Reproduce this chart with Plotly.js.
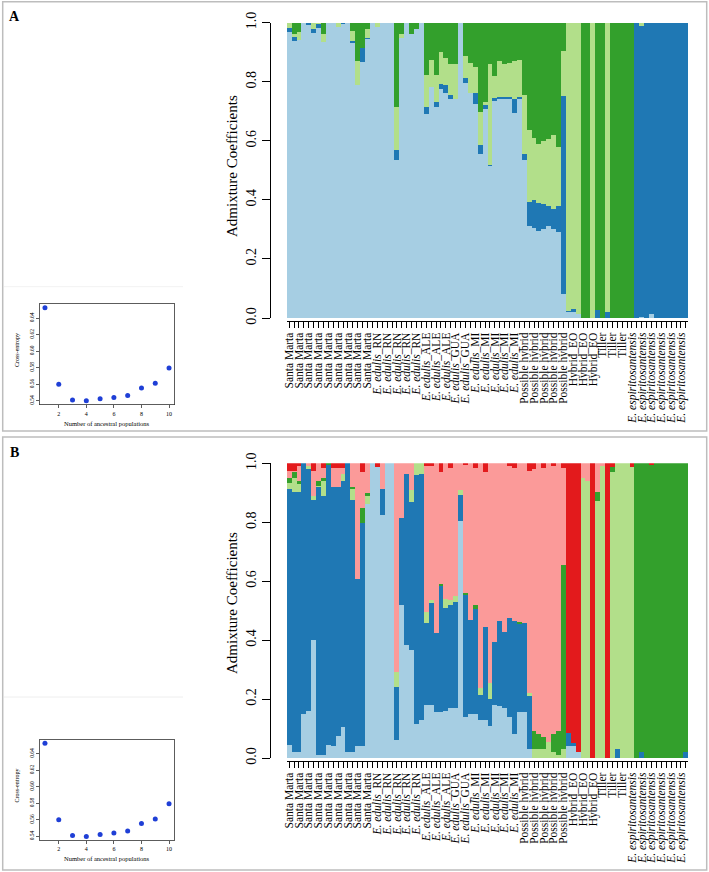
<!DOCTYPE html>
<html><head><meta charset="utf-8">
<script src="https://cdn.plot.ly/plotly-3.0.1.min.js"></script>
<style>html,body{margin:0;padding:0;background:#fff;}#chart{width:709px;height:872px;}</style>
</head><body><div id="chart"></div>
<script>
// ---------- DATA ----------
const tickLabels = [
 'Santa Marta','Santa Marta','Santa Marta','Santa Marta','Santa Marta','Santa Marta','Santa Marta','Santa Marta','Santa Marta',
 '<i>E. edulis</i>_RN','<i>E. edulis</i>_RN','<i>E. edulis</i>_RN','<i>E. edulis</i>_RN','<i>E. edulis</i>_RN',
 '<i>E. edulis</i>_ALE','<i>E. edulis</i>_ALE','<i>E. edulis</i>_ALE',
 '<i>E. edulis</i>_GUA','<i>E. edulis</i>_GUA',
 '<i>E. edulis</i>_MI','<i>E. edulis</i>_MI','<i>E. edulis</i>_MI','<i>E. edulis</i>_MI','<i>E. edulis</i>_MI',
 'Possible hybrid','Possible hybrid','Possible hybrid','Possible hybrid','Possible hybrid',
 'Hybrid_EO','Hybrid_EO','Hybrid_EO',
 'Tiller','Tiller','Tiller',
 '<i>E. espiritosantensis</i>','<i>E. espiritosantensis</i>','<i>E. espiritosantensis</i>','<i>E. espiritosantensis</i>','<i>E. espiritosantensis</i>','<i>E. espiritosantensis</i>'
];

// Panel A (K=4)
const aLightBlue = [.967,.938,.941,1,.993,.964,.981,.936,1,1, .986,.996,1,.931,.790,.867,.946,1,.986,1, 1,1,.534,.949,1,.962,.977,1,.691,.783, .714,.776,.761,.740,.740,1,.797,.761,.725,.556, .709,.515,.735,.740,.740,.740,.694,.740,.536,.312, .306,.296,.300,.310,.300,.290,.080,.020,.020,.015, 0,0,0,0,0,0,0,0,0,0, 0,0,.005,0,.014,0,0,0,0,0, 0,0];
const aDarkBlue  = [.016,.014,0,0,.007,.013,.015,0,0,0, 0,.004,0,.007,0,.049,.003,0,0,0, 0,0,.036,0,0,0,0,0,.023,0, .016,.018,.029,.016,0,0,.015,0,.036,.029, .013,.003,.010,.010,.010,.008,.048,.008,.020,.082, .094,.094,.085,.070,.070,.090,.672,.005,.010,0, 0,0,0,.028,0,.020,0,0,0,0, 0,1,.985,1,.986,1,1,1,1,1, 1,1];
const aLightGreen= [.017,.010,.026,0,0,.023,.004,.026,0,0, .014,0,0,.034,.081,0,.031,0,.014,0, 0,0,.144,.013,0,0,0,0,.109,.091, .093,.106,.089,.103,.119,0,.075,.103,.089,.114, .008,.341,.073,.120,.110,.114,.128,.127,.200,.243, .210,.200,.215,.225,.250,.200,.153,.975,.970,.985, 0,0,1,0,0,.980,0,0,0,0, 0,0,.010,0,0,0,0,0,0,0, 0,0];
const aDarkGreen = [0,.038,.033,0,0,0,0,.038,0,0, 0,0,0,.028,.129,.084,.020,0,0,0, 0,0,.286,.038,0,.038,.023,0,.177,.126, .177,.100,.121,.141,.141,0,.113,.136,.150,.301, .270,.141,.182,.130,.140,.138,.130,.125,.244,.363, .390,.410,.400,.395,.380,.420,.095,0,0,0, 1,1,0,.972,1,0,1,1,1,1, 1,0,0,0,0,0,0,0,0,0, 0,0];

// Panel B (K=6)
const bLightBlue = [.045,.020,.020,.150,.160,.400,.010,.010,.044,.040, .075,.105,.020,.020,.040,.040,.863,1,.988,.823, 1,1,.060,.520,.383,.368,.115,.130,.180,.180, .156,.155,.160,.170,.170,.803,.140,.150,.150,.130, .130,.110,.181,.176,.170,.140,.080,.156,.156,.030, 0,0,0,0,0,0,0,.040,.040,.020, 0,0,0,0,0,0,0,0,0,0, 0,0,0,0,0,0,0,0,0,0, 0,0];
const bDarkBlue  = [.869,.884,.881,.850,.820,.474,.909,.879,.951,.881, .846,.834,.980,.857,.566,.758,0,0,0,.091, 0,0,.182,.296,.582,.502,.845,.832,.279,.345, .268,.430,.350,.350,.360,.088,.412,.319,.355,.083, .314,.091,.212,.290,.256,.334,.384,.299,.303,.181, 0,0,0,0,0,0,0,.045,.010,0, 0,0,0,0,0,0,0,.030,0,0, 0,0,.020,0,0,0,0,0,0,0, 0,.020];
const bLightGreen= [.018,.047,.029,0,.010,.015,.005,.050,0,0, 0,.026,0,.037,0,0,.026,0,0,0, 0,0,.050,0,0,.038,.040,.038,.035,.010, 0,0,.030,.015,.020,.019,0,0,0,.025, 0,.053,0,0,0,0,0,0,0,.010, .030,.030,.030,.055,.020,.010,.030,0,0,0, .950,.940,0,.873,.990,0,.972,.970,1,1, .988,0,0,0,0,0,0,0,0,0, 0,0];
const bDarkGreen = [.018,.019,.009,0,0,0,.015,.011,.005,0, 0,0,0,.007,0,.050,.011,0,0,0, 0,0,0,0,0,0,0,0,0,0, 0,.005,0,0,0,0,.008,0,.015,0, 0,0,0,0,0,0,0,.005,0,0, .060,.050,.040,0,.060,.080,.626,0,0,0, 0,0,0,.031,0,0,.016,0,0,0, 0,1,.980,1,.995,1,1,1,1,1, 1,.980];
const bPink      = [.025,.005,.051,0,.010,.086,.061,.035,0,.064, .064,.020,0,.079,.394,.122,.100,0,0,.086, 0,0,.708,.184,.035,.092,0,0,.496,.455, .576,.380,.460,.450,.450,.090,.435,.531,.465,.762, .526,.746,.607,.534,.574,.516,.521,.540,.541,.754, .890,.920,.915,.945,.910,.910,.329,0,0,0, .050,.060,0,.096,.010,0,0,0,0,0, 0,0,0,0,0,0,0,0,0,0, 0,0];
const bRed       = [.025,.025,.010,0,0,.025,0,.015,0,.015, .015,.015,0,0,0,.030,0,0,.012,0, 0,0,0,0,0,0,0,0,.010,.010, 0,.030,0,.015,0,0,.005,0,.015,0, .030,0,0,0,0,.010,.015,0,0,.025, .020,0,.015,0,.010,0,.015,.915,.950,.980, 0,0,1,0,0,1,.012,0,0,0, .012,0,0,0,.005,0,0,0,0,0, 0,0];

// Cross-entropy insets
const kValues = [1,2,3,4,5,6,7,8,9,10];
const crossEntropyA = [0.6527,0.5600,0.5410,0.5400,0.5424,0.5440,0.5464,0.5556,0.5612,0.5796];
const crossEntropyB = [0.6527,0.5600,0.5410,0.5400,0.5424,0.5440,0.5464,0.5556,0.5612,0.5796];

const yTickVals = [0,0.2,0.4,0.6,0.8,1.0];
const yTickText = ['0.0','0.2','0.4','0.6','0.8','1.0'];
const ceTickVals = [0.54,0.56,0.58,0.60,0.62,0.64];
const ceTickText = ['0.54','0.56','0.58','0.60','0.62','0.64'];
const kTickVals = [2,4,6,8,10];

// ---------- BUILD ----------
const W = 709, H = 872;
const px = v => v / W;
const py = v => 1 - v / H;
const serif = 'Liberation Serif, Times New Roman, serif';
const nBars = aLightBlue.length;
const idx = aLightBlue.map((_, i) => i + 1);
const tickText = idx.map(i => (i % 2 === 1 ? (tickLabels[(i - 1) / 2] || '') : ''));

const C = {lb:'#A6CEE3', db:'#1F78B4', lg:'#B2DF8A', dg:'#33A02C', pk:'#FB9A99', rd:'#E31A1C'};
function bar(y, color, xa, ya) {
  return {type:'bar', x: idx, y: y, width: 1, xaxis: xa, yaxis: ya,
          marker:{color: color, line:{width:0}}, hoverinfo:'skip'};
}
const traces = [
  bar(aLightBlue, C.lb, 'x', 'y'), bar(aDarkBlue, C.db, 'x', 'y'),
  bar(aLightGreen, C.lg, 'x', 'y'), bar(aDarkGreen, C.dg, 'x', 'y'),
  bar(bLightBlue, C.lb, 'x3', 'y3'), bar(bDarkBlue, C.db, 'x3', 'y3'),
  bar(bLightGreen, C.lg, 'x3', 'y3'), bar(bDarkGreen, C.dg, 'x3', 'y3'),
  bar(bPink, C.pk, 'x3', 'y3'), bar(bRed, C.rd, 'x3', 'y3'),
  {type:'scatter', mode:'markers', x: kValues, y: crossEntropyA, xaxis:'x2', yaxis:'y2',
   marker:{color:'#1f3fd6', size:5}, hoverinfo:'skip'},
  {type:'scatter', mode:'markers', x: kValues, y: crossEntropyB, xaxis:'x4', yaxis:'y4',
   marker:{color:'#1f3fd6', size:5}, hoverinfo:'skip'}
];

function mainX(axisY) {
  return {domain:[px(286.7), px(688.3)], range:[0.5, nBars + 0.5], anchor:'free', position: py(axisY),
    showline:true, linecolor:'#000', linewidth:1, ticks:'outside', ticklen:6, tickwidth:1, tickcolor:'#000',
    tickmode:'array', tickvals: idx, ticktext: tickText, tickangle:-90,
    tickfont:{family: serif, size: 11.5, color:'#000'}, showgrid:false, zeroline:false, fixedrange:true};
}
function mainY(top, bottom) {
  return {domain:[py(bottom), py(top)], range:[0, 1], anchor:'free', position: px(270),
    showline:true, linecolor:'#000', linewidth:1, ticks:'outside', ticklen:8, tickwidth:1, tickcolor:'#000',
    tickmode:'array', tickvals: yTickVals, ticktext: yTickText, tickangle:-90,
    tickfont:{family: serif, size: 14, color:'#000'}, showgrid:false, zeroline:false, fixedrange:true};
}
function insetX(ya) {
  return {domain:[px(40), px(174)], range:[0.64, 10.36], anchor: ya, showline:true, mirror:true,
    linecolor:'#333', linewidth:0.8, ticks:'outside', ticklen:3, tickwidth:0.8, tickcolor:'#333',
    tickmode:'array', tickvals: kTickVals, tickfont:{family: serif, size: 6, color:'#000'},
    showgrid:false, zeroline:false, fixedrange:true};
}
function insetY(xa, top, bottom) {
  return {domain:[py(bottom), py(top)], range:[0.5355, 0.6572], anchor: xa, showline:true, mirror:true,
    linecolor:'#333', linewidth:0.8, ticks:'outside', ticklen:3, tickwidth:0.8, tickcolor:'#333',
    tickmode:'array', tickvals: ceTickVals, ticktext: ceTickText, tickangle:-90,
    tickfont:{family: serif, size: 5.5, color:'#000'}, showgrid:false, zeroline:false, fixedrange:true};
}

const offB = 435.6;
const layout = {
  width: W, height: H, margin:{l:0, r:0, t:0, b:0},
  paper_bgcolor:'#ffffff', plot_bgcolor:'rgba(0,0,0,0)',
  barmode:'stack', bargap:0, showlegend:false,
  xaxis: mainX(321), yaxis: mainY(22.7, 318),
  xaxis2: insetX('y2'), yaxis2: insetY('x2', 304, 404.5),
  xaxis3: mainX(761), yaxis3: mainY(463.3, 758),
  xaxis4: insetX('y4'), yaxis4: insetY('x4', 304 + offB, 404.5 + offB),
  shapes: [
    {type:'rect', xref:'paper', yref:'paper', x0: px(2.7), x1: px(706.7), y0: py(431), y1: py(1.7),
     line:{color:'#bdbdbd', width:1.5}},
    {type:'rect', xref:'paper', yref:'paper', x0: px(2.7), x1: px(706.7), y0: py(870), y1: py(437),
     line:{color:'#bdbdbd', width:1.5}},
    {type:'line', xref:'paper', yref:'paper', x0: px(4), x1: px(183), y0: py(286.7), y1: py(286.7),
     line:{color:'#f2f2f2', width:1}},
    {type:'line', xref:'paper', yref:'paper', x0: px(4), x1: px(183), y0: py(697), y1: py(697),
     line:{color:'#eeeeee', width:1}}
  ],
  annotations: [
    {text:'<b>A</b>', x: px(14), y: py(17), xref:'paper', yref:'paper', showarrow:false,
     xanchor:'center', yanchor:'middle', font:{family: serif, size: 14, color:'#000'}},
    {text:'<b>B</b>', x: px(14), y: py(453), xref:'paper', yref:'paper', showarrow:false,
     xanchor:'center', yanchor:'middle', font:{family: serif, size: 14, color:'#000'}},
    {text:'Admixture Coefficients', x: px(232), y: py(166), xref:'paper', yref:'paper', showarrow:false,
     textangle:-90, xanchor:'center', yanchor:'middle', font:{family: serif, size: 15, color:'#000'}},
    {text:'Admixture Coefficients', x: px(232), y: py(603), xref:'paper', yref:'paper', showarrow:false,
     textangle:-90, xanchor:'center', yanchor:'middle', font:{family: serif, size: 15, color:'#000'}},
    {text:'Cross-entropy', x: px(17), y: py(350), xref:'paper', yref:'paper', showarrow:false,
     textangle:-90, xanchor:'center', yanchor:'middle', font:{family: serif, size: 6, color:'#000'}},
    {text:'Cross-entropy', x: px(17), y: py(350 + offB), xref:'paper', yref:'paper', showarrow:false,
     textangle:-90, xanchor:'center', yanchor:'middle', font:{family: serif, size: 6, color:'#000'}},
    {text:'Number of ancestral populations', x: px(107), y: py(423), xref:'paper', yref:'paper', showarrow:false,
     xanchor:'center', yanchor:'middle', font:{family: serif, size: 6.5, color:'#000'}},
    {text:'Number of ancestral populations', x: px(107), y: py(423 + offB), xref:'paper', yref:'paper', showarrow:false,
     xanchor:'center', yanchor:'middle', font:{family: serif, size: 6.5, color:'#000'}}
  ]
};

Plotly.newPlot('chart', traces, layout, {displayModeBar:false, staticPlot:true});
</script>
</body></html>
